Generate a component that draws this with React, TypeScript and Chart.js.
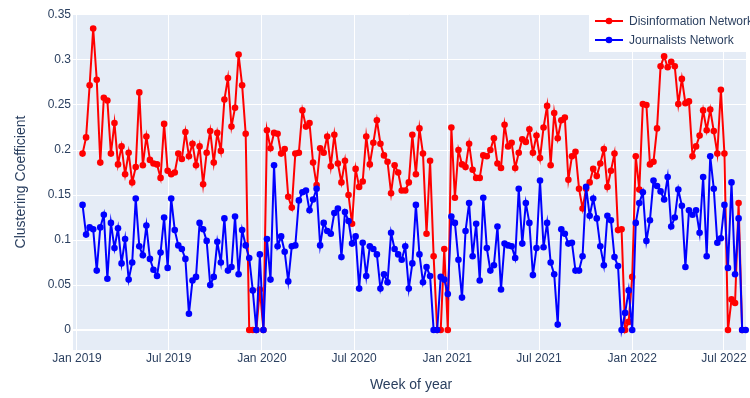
import React, { useEffect, useRef } from "react";
import { Chart, registerables } from "chart.js";

Chart.register(...registerables);

// Weekly points: day offset (from 2019-01-01) of the first week, and spacing in days
const START_DAY = 11;
const WEEK_STEP = 7;

const seriesNames = ["Disinformation Network", "Journalists Network"];
const seriesColors = ["#ff0000", "#0000ff"];

const disinformation: (number | null)[] = [
  0.196, 0.214, 0.272, 0.335, 0.278, 0.186, 0.258, 0.255, 0.196, 0.230,
  0.184, 0.204, 0.173, 0.197, 0.164, 0.181, 0.264, 0.183, 0.215, 0.189,
  0.185, 0.184, 0.169, 0.229, 0.177, 0.173, 0.175, 0.196, 0.190, 0.220,
  0.193, 0.207, 0.183, 0.204, 0.162, 0.197, 0.221, 0.186, 0.219, 0.199,
  0.256, 0.280, 0.226, 0.247, 0.306, 0.272, 0.218, 0, 0, 0,
  0.045, 0, 0.222, 0.202, 0.219, 0.218, 0.196, 0.201, 0.148, 0.136,
  0.196, 0.197, 0.244, 0.226, 0.230, 0.186, 0.161, 0.202, 0.197, 0.215,
  0.182, 0.217, 0.185, 0.164, 0.188, 0.150, 0.118, 0.179, 0.159, 0.165,
  0.215, 0.184, 0.208, 0.233, 0.207, 0.194, 0.187, 0.152, 0.183, 0.175,
  0.155, 0.155, 0.164, 0.217, 0.173, 0.224, 0.196, 0.107, 0.188, 0.082,
  0, 0, 0.090, 0, 0.225, 0.147, 0.200, 0.184, 0.181, 0.207,
  0.178, 0.169, 0.169, 0.194, 0.193, 0.200, 0.213, 0.185, 0.180, 0.228,
  0.204, 0.208, 0.180, 0.197, 0.212, 0.209, 0.223, 0.197, 0.216, 0.191,
  0.225, 0.249, 0.183, 0.241, 0.213, 0.233, 0.236, 0.167, 0.193, 0.198,
  0.157, 0.135, 0.157, 0.164, 0.179, 0.171, 0.185, 0.201, 0.159, 0.177,
  0.196, 0.111, 0.112, 0, 0.009, 0.059, 0.193, 0.156, 0.251, 0.250,
  0.184, 0.187, 0.224, 0.293, 0.304, 0.292, 0.298, 0.293, 0.251, 0.279,
  0.252, 0.254, 0.193, 0.204, 0.216, 0.244, 0.222, 0.245, 0.221, 0.196,
  0.267, 0.196, 0, 0.034, 0.030, 0.141, 0, null,
];

const journalists: (number | null)[] = [
  0.139, 0.106, 0.114, 0.112, 0.066, 0.114, 0.128, 0.057, 0.119, 0.091,
  0.113, 0.074, 0.101, 0.056, 0.075, 0.146, 0.093, 0.083, 0.116, 0.079,
  0.067, 0.060, 0.086, 0.125, 0.069, 0.146, 0.111, 0.094, 0.090, 0.079,
  0.018, 0.055, 0.059, 0.119, 0.112, 0.099, 0.050, 0.059, 0.098, 0.075,
  0.124, 0.066, 0.070, 0.126, 0.062, 0.111, 0.094, 0.080, 0.044, 0,
  0.084, 0, 0.101, 0.056, 0.183, 0.093, 0.104, 0.087, 0.054, 0.093,
  0.094, 0.144, 0.153, 0.155, 0.133, 0.145, 0.157, 0.094, 0.119, 0.110,
  0.107, 0.130, 0.135, 0.081, 0.131, 0.121, 0.096, 0.104, 0.046, 0.097,
  0.060, 0.093, 0.090, 0.084, 0.046, 0.062, 0.053, 0.108, 0.090, 0.084,
  0.078, 0.093, 0.046, 0.074, 0.139, 0.084, 0.053, 0.070, 0.060, 0,
  0, 0.059, 0.056, 0.040, 0.126, 0.119, 0.078, 0.036, 0.110, 0.141,
  0.082, 0.118, 0.055, 0.147, 0.091, 0.066, 0.072, 0.115, 0.045, 0.096,
  0.094, 0.093, 0.080, 0.157, 0.096, 0.141, 0.119, 0.061, 0.091, 0.166,
  0.092, 0.119, 0.075, 0.062, 0.006, 0.112, 0.107, 0.096, 0.097, 0.066,
  0.066, 0.082, 0.159, 0.127, 0.146, 0.124, 0.093, 0.072, 0.127, 0.122,
  0.081, 0.071, 0, 0.019, 0.044, 0, 0.119, 0.141, 0.153, 0.099,
  0.122, 0.166, 0.160, 0.154, 0.145, 0.170, 0.115, 0.125, 0.156, 0.138,
  0.070, 0.133, 0.128, 0.133, 0.108, 0.170, 0.082, 0.193, 0.157, 0.097,
  0.102, 0.139, 0.069, 0.164, 0.062, 0.124, 0, 0,
];

// x ticks: day offsets from 2019-01-01
const xTickDays = [0, 181, 365, 547, 731, 912, 1096, 1277];
const xTickLabels = ["Jan 2019", "Jul 2019", "Jan 2020", "Jul 2020", "Jan 2021", "Jul 2021", "Jan 2022", "Jul 2022"];
const yTickValues = [0, 0.05, 0.1, 0.15, 0.2, 0.25, 0.3, 0.35];
const yTickLabels = ["0", "0.05", "0.1", "0.15", "0.2", "0.25", "0.3", "0.35"];

const X_MIN = -7.85;
const X_MAX = 1320.6;
const Y_MIN = -0.0222;
const Y_MAX = 0.3511;

const FONT = '"Liberation Sans", Arial, sans-serif';
const TEXT = "#2a3f5f";

const toPoints = (arr: (number | null)[]) =>
  arr.map((v, i) => ({ x: START_DAY + WEEK_STEP * i, y: v }));

const decorPlugin = {
  id: "decor",
  beforeDraw(chart: any) {
    const { ctx, chartArea: a } = chart;
    ctx.save();
    ctx.fillStyle = "#E5ECF6";
    ctx.fillRect(a.left, a.top, a.right - a.left, a.bottom - a.top);
    ctx.restore();
  },
  afterDraw(chart: any) {
    const { ctx, chartArea: a } = chart;
    ctx.save();
    ctx.fillStyle = TEXT;
    ctx.font = `14px ${FONT}`;
    ctx.textAlign = "center";
    ctx.textBaseline = "middle";
    ctx.fillText("Week of year", (a.left + a.right) / 2 + 1.5, a.bottom + 35);
    ctx.save();
    ctx.translate(21, (a.top + a.bottom) / 2);
    ctx.rotate(-Math.PI / 2);
    ctx.fillText("Clustering Coefficient", 0, 0);
    ctx.restore();

    // legend
    const lx = 589;
    ctx.fillStyle = "#ffffff";
    ctx.fillRect(lx, 0, chart.width - lx, 52);
    ctx.font = `12px ${FONT}`;
    ctx.textAlign = "left";
    seriesNames.forEach((name, k) => {
      const y = 21 + 19 * k;
      ctx.strokeStyle = seriesColors[k];
      ctx.lineWidth = 2;
      ctx.beginPath();
      ctx.moveTo(lx + 6, y);
      ctx.lineTo(lx + 34, y);
      ctx.stroke();
      ctx.fillStyle = seriesColors[k];
      ctx.beginPath();
      ctx.arc(lx + 20, y, 3.3, 0, Math.PI * 2);
      ctx.fill();
      ctx.fillStyle = TEXT;
      ctx.fillText(name, lx + 40, y + 0.5);
    });
    ctx.restore();
  },
};

export default function App() {
  const canvasRef = useRef<HTMLCanvasElement | null>(null);

  useEffect(() => {
    if (!canvasRef.current) return;
    const series = [disinformation, journalists];
    const chart = new Chart(canvasRef.current, {
      type: "line",
      data: {
        datasets: series.map((arr, k) => ({
          label: seriesNames[k],
          data: toPoints(arr),
          borderColor: seriesColors[k],
          backgroundColor: seriesColors[k],
          pointBackgroundColor: seriesColors[k],
          pointBorderWidth: 0,
          pointRadius: 3.3,
          borderWidth: 2,
          tension: 0,
          spanGaps: false,
          clip: false as any,
          order: k === 0 ? 1 : 0,
        })),
      },
      options: {
        responsive: false,
        animation: false,
        events: [],
        layout: { padding: { top: 14, left: 0, right: 0, bottom: 0 } },
        plugins: {
          legend: { display: false },
          tooltip: { enabled: false },
        },
        scales: {
          x: {
            type: "linear",
            min: X_MIN,
            max: X_MAX,
            afterBuildTicks: (s: any) => {
              s.ticks = xTickDays.map((v) => ({ value: v }));
            },
            afterFit: (s: any) => {
              s.height = 48;
            },
            ticks: {
              autoSkip: false,
              maxRotation: 0,
              padding: 1,
              color: TEXT,
              font: { family: FONT, size: 12 },
              callback: (_v: any, i: number) => xTickLabels[i],
            },
            grid: { color: "#ffffff", lineWidth: 1, drawTicks: false },
            border: { display: false },
          },
          y: {
            type: "linear",
            min: Y_MIN,
            max: Y_MAX,
            afterBuildTicks: (s: any) => {
              s.ticks = yTickValues.map((v) => ({ value: v }));
            },
            afterFit: (s: any) => {
              s.width = 73;
            },
            ticks: {
              padding: 2,
              color: TEXT,
              font: { family: FONT, size: 12 },
              callback: (_v: any, i: number) => yTickLabels[i],
            },
            grid: {
              color: "#ffffff",
              lineWidth: (c: any) => (c.tick && c.tick.value === 0 ? 2 : 1),
              drawTicks: false,
            },
            border: { display: false },
          },
        },
      },
      plugins: [decorPlugin],
    });
    return () => chart.destroy();
  }, []);

  return (
    <div style={{ position: "fixed", left: 0, top: 0, width: 750, height: 398, background: "#fff" }}>
      <canvas ref={canvasRef} width={750} height={398} style={{ display: "block" }} />
    </div>
  );
}
